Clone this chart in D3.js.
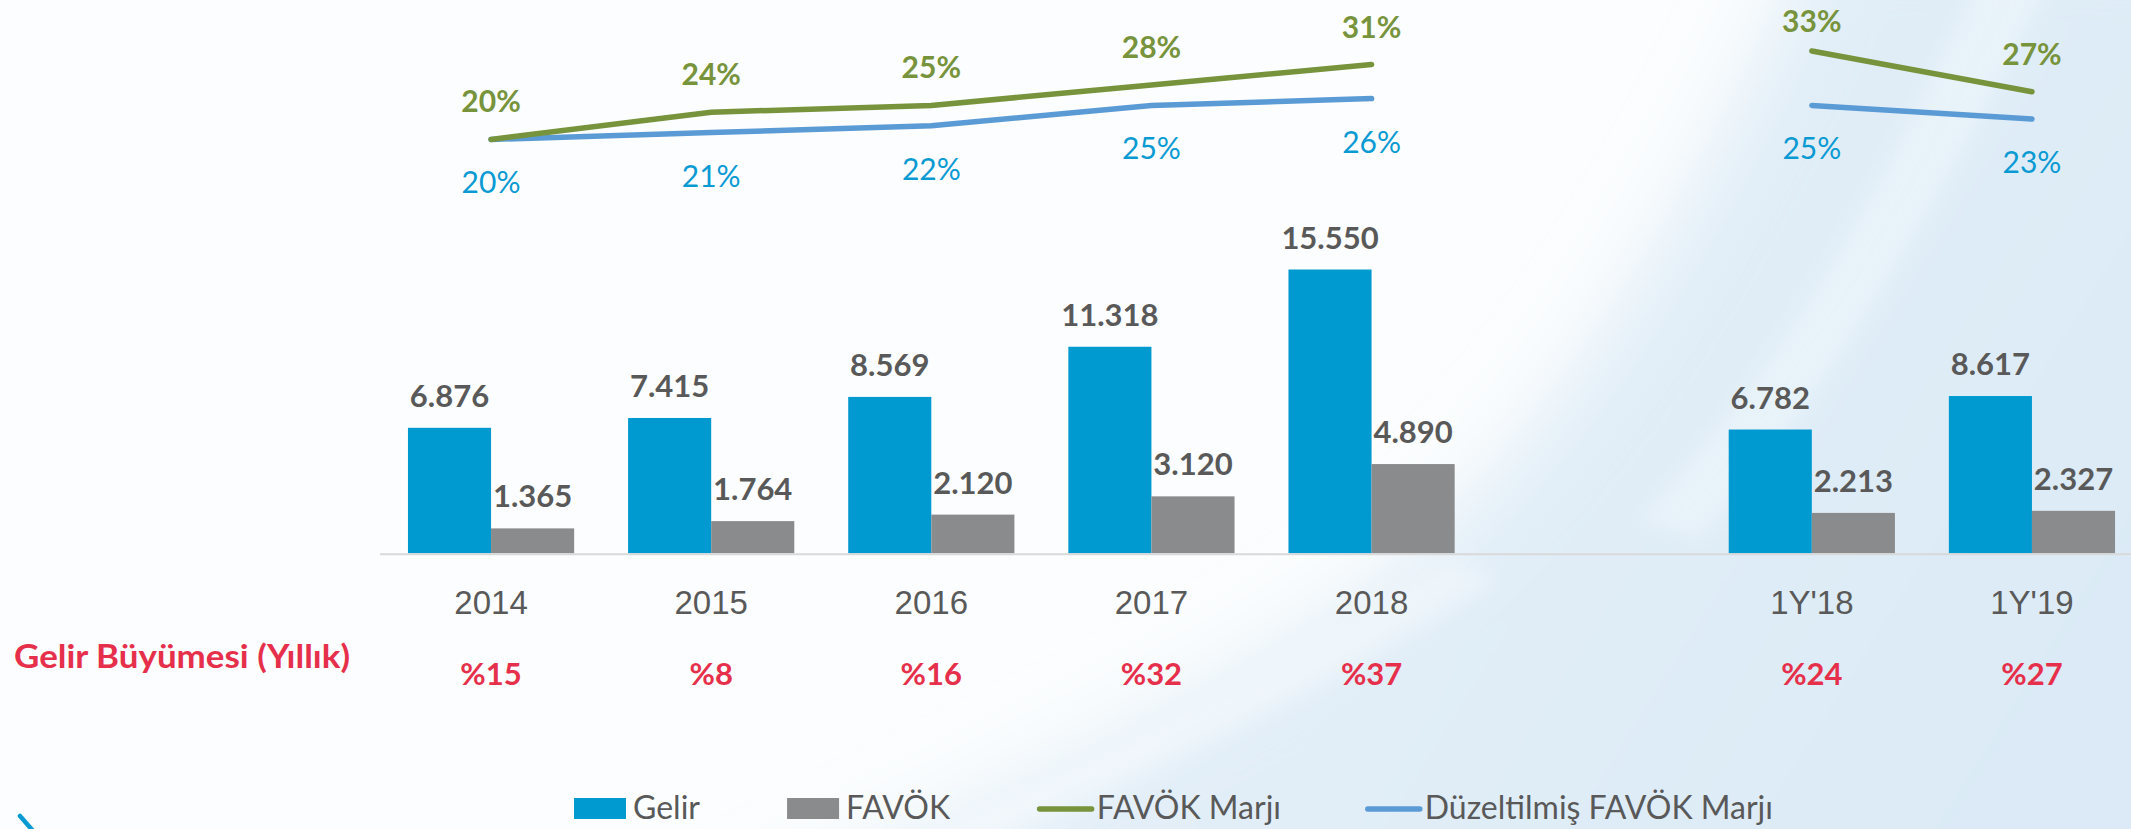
<!DOCTYPE html>
<html lang="tr">
<head>
<meta charset="utf-8">
<title>Gelir ve FAVÖK</title>
<script src="https://cdn.jsdelivr.net/npm/d3@7/dist/d3.min.js"></script>
<style>
  html, body { margin: 0; padding: 0; overflow: hidden; background: #fbfdfe; }
  svg { display: block; font-family: Lato, "Open Sans", "Noto Sans", sans-serif; }
</style>
</head>
<body>
<svg id="chart" width="2131" height="829"></svg>
<script>
// Periods (the empty slot separates full years from half years)
const categories = ["2014", "2015", "2016", "2017", "2018", "", "1Y'18", "1Y'19"];
// Revenue and EBITDA (mn TL)
const gelir = [6876, 7415, 8569, 11318, 15550, null, 6782, 8617];
const favok = [1365, 1764, 2120, 3120, 4890, null, 2213, 2327];
// EBITDA margin and adjusted EBITDA margin (%)
const favokMarji = [20, 24, 25, 28, 31, null, 33, 27];
const duzeltilmisFavokMarji = [20, 21, 22, 25, 26, null, 25, 23];
// Yearly revenue growth (%)
const gelirBuyumesi = [15, 8, 16, 32, 37, null, 24, 27];

const legendItems = [
  { label: "Gelir", kind: "rect", color: "#0099d0" },
  { label: "FAVÖK", kind: "rect", color: "#8a8b8d" },
  { label: "FAVÖK Marjı", kind: "line", color: "#77933c" },
  { label: "Düzeltilmiş FAVÖK Marjı", kind: "line", color: "#5b9bd5" }
];

const W = 2131, H = 829;
const C = {
  gelir: "#0099d0", favok: "#8a8b8d", green: "#77933c", blueLine: "#5b9bd5",
  blueText: "#0a9ad3", text: "#595959", red: "#e6304b", axis: "#d9d9d9"
};

const tr = d3.formatLocale({ decimal: ",", thousands: ".", grouping: [3], currency: ["₺", ""] });
const fmt = tr.format(",d");

const svg = d3.select("#chart");
const defs = svg.append("defs");

// ---- background ----
const bgGrad = defs.append("linearGradient").attr("id", "bgTint")
  .attr("x1", 0).attr("y1", 0).attr("x2", 1).attr("y2", 0.4);
bgGrad.append("stop").attr("offset", 0).attr("stop-color", "#ecf4fa");
bgGrad.append("stop").attr("offset", 1).attr("stop-color", "#dbeaf6");
const soft = defs.append("filter").attr("id", "soft").attr("x", -0.3).attr("y", -0.3).attr("width", 1.6).attr("height", 1.6);
soft.append("feGaussianBlur").attr("stdDeviation", 40);
const softer = defs.append("filter").attr("id", "softer").attr("x", -0.2).attr("y", -0.2).attr("width", 1.4).attr("height", 1.4);
softer.append("feGaussianBlur").attr("stdDeviation", 10);

const bg = svg.append("g");
bg.append("rect").attr("width", W).attr("height", H).attr("fill", "#fbfdfe");
bg.append("path")
  .attr("d", "M1820,-80 C1720,160 1580,420 1380,580 C1180,720 960,800 700,940 L2300,940 L2300,-80 Z")
  .attr("fill", "url(#bgTint)").attr("filter", "url(#soft)");
bg.append("path")
  .attr("d", "M1990,-40 C1900,150 1790,360 1640,520 L1700,540 C1840,380 1960,170 2060,-40 Z")
  .attr("fill", "#ffffff").attr("opacity", 0.3).attr("filter", "url(#softer)");
bg.append("path")
  .attr("d", "M1450,560 C1250,690 1050,780 880,860 L960,860 C1130,780 1320,690 1500,580 Z")
  .attr("fill", "#ffffff").attr("opacity", 0.35).attr("filter", "url(#softer)");
// corner mark
bg.append("path").attr("d", "M20,816 L34,832")
  .attr("stroke", "#0a9ad3").attr("stroke-width", 4.5).attr("stroke-linecap", "round");

// ---- scales ----
const x = d3.scaleBand().domain(categories).range([380, 2143]).paddingInner(0.245).paddingOuter(0.127);
const xs = d3.scaleBand().domain(["gelir", "favok"]).range([0, x.bandwidth()]);
const y = d3.scaleLinear().domain([0, 20000]).range([553.3, 188.3]);
const yM = d3.scaleLinear().domain([0, 40]).range([275.4, 3.4]);

const rows = categories.map((c, i) => ({
  c, gelir: gelir[i], favok: favok[i], m: favokMarji[i], dm: duzeltilmisFavokMarji[i], g: gelirBuyumesi[i]
}));
const filled = rows.filter(d => d.gelir != null);

// ---- bars ----
const groups = svg.append("g").selectAll("g").data(filled).join("g")
  .attr("transform", d => `translate(${x(d.c)},0)`);

["gelir", "favok"].forEach(key => {
  groups.append("rect")
    .attr("x", xs(key)).attr("width", xs.bandwidth())
    .attr("y", d => y(d[key])).attr("height", d => y(0) - y(d[key]))
    .attr("fill", C[key]);
  groups.append("text")
    .attr("x", xs(key) + xs.bandwidth() / 2).attr("y", d => y(d[key]) - 21)
    .attr("text-anchor", "middle").attr("font-size", 31).attr("font-weight", 700)
    .attr("fill", C.text).text(d => fmt(d[key]));
});

// ---- category axis ----
svg.append("line").attr("x1", x.range()[0]).attr("x2", x.range()[1])
  .attr("y1", y(0) + 1).attr("y2", y(0) + 1).attr("stroke", C.axis).attr("stroke-width", 2);

const axis = svg.append("g").attr("transform", `translate(0,${y(0)})`)
  .call(d3.axisBottom(x).tickSize(0).tickPadding(0));
axis.select(".domain").remove();
axis.selectAll("text").attr("dy", 0).attr("y", 61)
  .attr("font-family", null).attr("font-size", 33).attr("fill", C.text);

// ---- growth row ----
svg.append("text").attr("x", 14).attr("y", 668)
  .attr("font-size", 33).attr("font-weight", 700).attr("fill", C.red)
  .attr("textLength", 336).attr("lengthAdjust", "spacingAndGlyphs")
  .text("Gelir Büyümesi (Yıllık)");
svg.append("g").selectAll("text").data(filled).join("text")
  .attr("x", d => x(d.c) + x.bandwidth() / 2).attr("y", 685)
  .attr("text-anchor", "middle").attr("font-size", 31).attr("font-weight", 700)
  .attr("fill", C.red).text(d => "%" + d.g);

// ---- margin lines ----
const cx = d => x(d.c) + x.bandwidth() / 2;
const lineOf = key => d3.line().defined(d => d[key] != null).x(cx).y(d => yM(d[key]));

svg.append("path").datum(rows).attr("d", lineOf("dm"))
  .attr("fill", "none").attr("stroke", C.blueLine).attr("stroke-width", 5.5)
  .attr("stroke-linecap", "round").attr("stroke-linejoin", "round");
svg.append("path").datum(rows).attr("d", lineOf("m"))
  .attr("fill", "none").attr("stroke", C.green).attr("stroke-width", 5.5)
  .attr("stroke-linecap", "round").attr("stroke-linejoin", "round");

svg.append("g").selectAll("text").data(filled).join("text")
  .attr("x", cx).attr("y", d => Math.max(yM(d.m) - 27, 32))
  .attr("text-anchor", "middle").attr("font-size", 30).attr("font-weight", 700)
  .attr("fill", C.green).text(d => d.m + "%");
svg.append("g").selectAll("text").data(filled).join("text")
  .attr("x", cx).attr("y", d => yM(d.dm) + 54)
  .attr("text-anchor", "middle").attr("font-size", 30)
  .attr("fill", C.blueText).text(d => d.dm + "%");

// ---- legend ----
const legend = svg.append("g");
const items = legend.selectAll("g").data(legendItems).join("g");
items.each(function (d) {
  const g = d3.select(this);
  if (d.kind === "rect") {
    g.append("rect").attr("x", 0).attr("y", 798).attr("width", 52).attr("height", 21).attr("fill", d.color);
  } else {
    g.append("line").attr("x1", 2).attr("x2", 54).attr("y1", 809).attr("y2", 809)
      .attr("stroke", d.color).attr("stroke-width", 5.5).attr("stroke-linecap", "round");
  }
  g.append("text").attr("x", 59).attr("y", 819).attr("font-size", 32)
    .attr("fill", C.text).text(d.label);
});
const widths = [];
items.each(function () { widths.push(this.getBBox().width); });
const legendStart = 574, legendEnd = 1771;
const gap = (legendEnd - legendStart - d3.sum(widths)) / (widths.length - 1);
let cursor = legendStart;
items.attr("transform", (d, i) => {
  const t = `translate(${cursor},0)`;
  cursor += widths[i] + gap;
  return t;
});
</script>
</body>
</html>
